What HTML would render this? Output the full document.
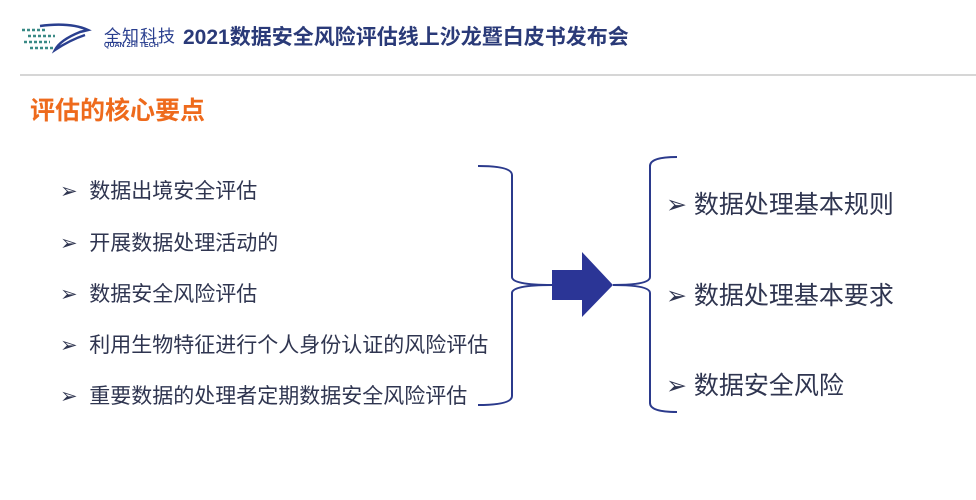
<!DOCTYPE html>
<html><head><meta charset="utf-8"><style>
body{margin:0;width:976px;height:500px;background:#fff;position:relative;overflow:hidden;font-family:"Liberation Sans","Noto Sans CJK SC",sans-serif}
.t{position:absolute;white-space:nowrap}
.l{font-size:21px;color:#2f3550;left:60px}
.r{font-size:25px;color:#2f3550;left:666px}
</style></head><body>
<svg width="976" height="500" style="position:absolute;left:0;top:0">
<g stroke="#3a8a86" stroke-width="2.5">
<line x1="22" y1="30" x2="45" y2="30" stroke-dasharray="3 2"/>
<line x1="28" y1="36" x2="55" y2="36" stroke-dasharray="3 2"/>
<line x1="24" y1="42" x2="50" y2="42" stroke-dasharray="3 2"/>
<line x1="30" y1="48" x2="55" y2="48" stroke-dasharray="3 2"/>
</g>
<path d="M40 26 Q70 22 88 30 L80 32 Q60 40 55 50 Q70 40 85 35" fill="none" stroke="#2a3f8f" stroke-width="2.5"/>
<line x1="20" y1="75" x2="976" y2="75" stroke="#c8c8c8" stroke-width="1.5"/>
<g fill="none" stroke="#2b3a8c" stroke-width="2">
<path d="M478 166 Q512 166 512 175 L512 277 Q512 285 552 285 Q512 285 512 293 L512 396 Q512 405 478 405"/>
<path d="M677 157 Q650 157 650 166 L650 277 Q650 285 613 285 Q650 285 650 293 L650 403 Q650 412 677 412"/>
</g>
<polygon points="552,270 582,270 582,252 613,285 582,317 582,300 552,300" fill="#2b3596"/>
</svg>
<div class="t" style="left:104px;top:22px;font-size:17px;color:#2a3f8f;letter-spacing:1px">全知科技</div>
<div class="t" style="left:104px;top:42px;font-size:7px;color:#2a3f8f;font-weight:bold">QUAN ZHI TECH</div>
<div class="t" style="left:183px;top:21px;font-size:21px;font-weight:bold;color:#2a3a78">2021数据安全风险评估线上沙龙暨白皮书发布会</div>
<div class="t" style="left:30px;top:91px;font-size:25px;font-weight:bold;color:#ee6a1c">评估的核心要点</div>
<div class="t l" style="top:175px">➢&nbsp;&nbsp;数据出境安全评估</div>
<div class="t l" style="top:227px">➢&nbsp;&nbsp;开展数据处理活动的</div>
<div class="t l" style="top:278px">➢&nbsp;&nbsp;数据安全风险评估</div>
<div class="t l" style="top:329px">➢&nbsp;&nbsp;利用生物特征进行个人身份认证的风险评估</div>
<div class="t l" style="top:380px">➢&nbsp;&nbsp;重要数据的处理者定期数据安全风险评估</div>
<div class="t r" style="top:185px">➢ 数据处理基本规则</div>
<div class="t r" style="top:276px">➢ 数据处理基本要求</div>
<div class="t r" style="top:366px">➢ 数据安全风险</div>
</body></html>
